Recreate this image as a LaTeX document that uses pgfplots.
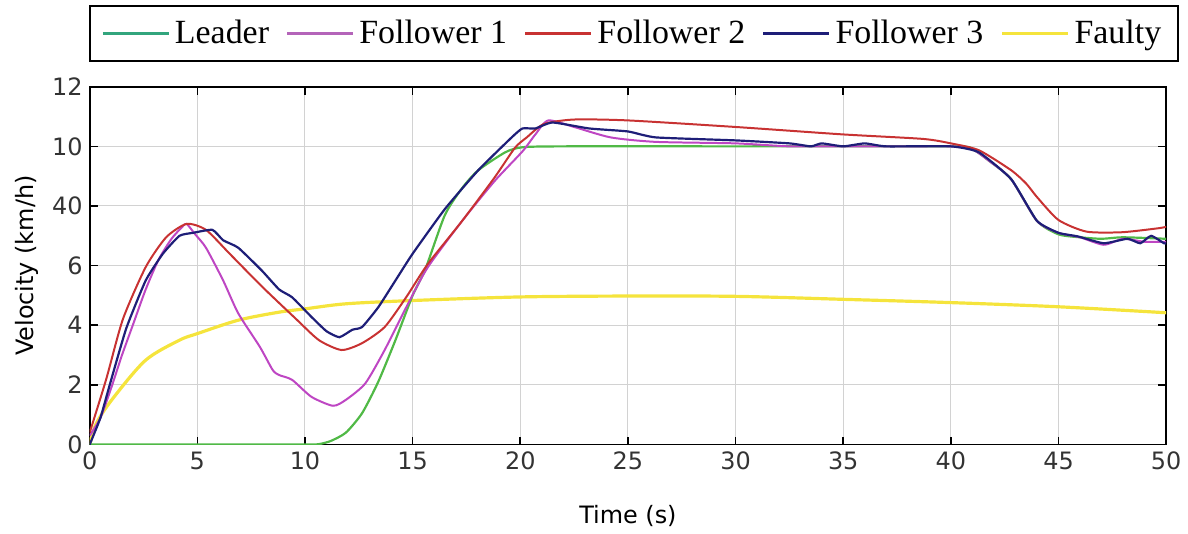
\documentclass[border=0pt]{standalone}
\usepackage{pgfplots}
\pgfplotsset{compat=1.18}
\usepackage{fontspec}
\setmainfont{DejaVu Sans}
\newfontfamily\legfont{Liberation Serif}

\definecolor{cleader}{RGB}{80,185,70}
\definecolor{cleaderleg}{RGB}{50,165,125}
\definecolor{cf1}{RGB}{190,70,195}
\definecolor{cf1leg}{RGB}{180,100,185}
\definecolor{cf2}{RGB}{200,50,50}
\definecolor{cf3}{RGB}{30,30,120}
\definecolor{cfaulty}{RGB}{245,228,60}

\begin{document}
\begin{tikzpicture}
\begin{axis}[
    width=540pt, height=179.5pt,
    scale only axis,
    xmin=0, xmax=50,
    ymin=0, ymax=12,
    xtick={0,5,...,50},
    ytick={0,2,4,6,8,10,12},
    yticklabels={0,2,4,6,40,10,12},
    grid=major,
    grid style={gray!35, line width=0.5pt},
    axis line style={black, line width=0.8pt},
    tick style={black, line width=0.8pt},
    major tick length=4pt,
    tick align=inside,
    ticklabel style={font=\fontsize{12}{14}\selectfont, text=black!80},
    /pgf/number format/assume math mode=true,
    xlabel={Time (s)},
    ylabel={Velocity (km/h)},
    label style={font=\fontsize{12}{14}\selectfont},
    xlabel style={yshift=-11pt},
    legend columns=5,
    legend image code/.code={\draw[#1] (0pt,0pt) -- (33pt,0pt);},
    legend style={
        at={(0.5,1)}, anchor=south, xshift=3pt, yshift=12.5pt,
        draw=black, line width=1pt,
        font=\legfont\fontsize{17}{19}\selectfont,
        inner xsep=6pt, inner ysep=4.5pt,
        nodes={inner sep=2.5pt},
        /tikz/every even column/.append style={column sep=6pt},
    },
]

% legend samples
\addlegendimage{cleaderleg, line width=1.3pt}
\addlegendentry{Leader}
\addlegendimage{cf1leg, line width=1.3pt}
\addlegendentry{Follower 1}
\addlegendimage{cf2, line width=1.3pt}
\addlegendentry{Follower 2}
\addlegendimage{cf3, line width=1.3pt}
\addlegendentry{Follower 3}
\addlegendimage{cfaulty, line width=1.8pt}
\addlegendentry{Faulty}

% Faulty
\addplot[cfaulty, line width=1.6pt, smooth, forget plot] coordinates {
(0,0) (0.3,0.7) (1.08,1.55) (2.6,2.83) (4.17,3.5) (5,3.72) (6.9,4.17)
(8.8,4.44) (10,4.55) (11.9,4.72) (15,4.83) (20,4.95) (25,4.98) (30,4.97)
(35,4.87) (40,4.76) (45,4.62) (50,4.42)
};

% Leader
\addplot[cleader, line width=1.1pt, smooth, tension=0.4, forget plot] coordinates {
(0,0) (5,0) (10,0) (10.4,0) (10.7,0.02) (11.2,0.12) (11.9,0.4) (12.65,1.05)
(13.4,2.1) (14.2,3.5) (15.0,5.0) (15.6,5.9) (16.5,7.7) (17.3,8.6)
(18.05,9.2) (19.3,9.8) (20.1,9.97) (22,10) (30,10) (40,10) (41,9.9)
(41.8,9.5) (42.8,8.9) (44,7.5) (45,7.05) (46,6.95) (47,6.9) (48,6.95) (50,6.9)
};

% Follower 1
\addplot[cf1, line width=1pt, smooth, tension=0.4, forget plot] coordinates {
(0,0.3) (0.5,0.9) (1,1.9) (1.5,3.0) (2,4.0) (2.6,5.2) (3.2,6.2) (3.8,6.9)
(4.3,7.3) (4.5,7.4) (4.9,7.05) (5.4,6.6) (6.2,5.5) (6.9,4.4) (7.9,3.28)
(8.5,2.5) (8.8,2.33) (9.4,2.17) (10.3,1.6) (11.3,1.3) (11.9,1.5)
(12.8,2.05) (13.7,3.17) (14.7,4.6) (15.7,5.94) (17.3,7.5) (18.8,8.83)
(20.1,9.83) (20.7,10.4) (21.3,10.87) (22.5,10.65) (24.2,10.3) (26.3,10.15)
(30,10.1) (32.5,10.0) (35,10.0) (38,10.0) (40,10.0) (41,9.9) (41.8,9.5)
(42.8,8.9) (44,7.5) (45,7.1) (46,6.95) (47.1,6.7) (48,6.9) (49,6.8) (50,6.8)
};

% Follower 2
\addplot[cf2, line width=1pt, smooth, tension=0.4, forget plot] coordinates {
(0,0.4) (0.77,2.2) (1.54,4.2) (2.6,5.95) (3.55,6.95) (4.5,7.4) (5.4,7.2)
(6.5,6.4) (8.0,5.3) (9.6,4.2) (10.65,3.5) (11.7,3.17) (12.65,3.4)
(13.7,3.94) (14.7,4.94) (15.7,6.05) (17.3,7.5) (18.8,8.95) (19.75,9.95)
(20.3,10.3) (21.1,10.75) (22.5,10.9) (25,10.87) (30,10.65) (35,10.4)
(38.7,10.25) (40,10.1) (41.3,9.87) (42.8,9.2) (43.5,8.75) (44,8.3) (45,7.53)
(46.3,7.14) (47.95,7.12) (49.6,7.25) (50,7.3)
};

% Follower 3
\addplot[cf3, line width=1.1pt, smooth, tension=0.3, forget plot] coordinates {
(0,0) (0.5,0.9) (0.93,2.0) (1.7,3.9) (2.6,5.5) (3.4,6.4) (4.17,7.0)
(4.8,7.1) (5.7,7.2) (6.2,6.85) (6.9,6.6) (8.0,5.83) (8.8,5.2) (9.4,4.94)
(10.3,4.28) (11.0,3.8) (11.6,3.6) (12.2,3.85) (12.65,3.94) (13.4,4.6)
(14.2,5.5) (15.0,6.4) (16.5,7.9) (18.05,9.2) (19.6,10.3) (20.1,10.6)
(20.7,10.6) (21.5,10.8) (23.2,10.6) (25,10.5) (26.3,10.3) (30,10.2)
(32.5,10.1) (33.5,10.0) (34,10.1) (35,10.0) (36,10.1) (37,10.0) (40,10.0)
(41.3,9.8) (42.8,8.9) (44,7.5) (45,7.1) (45.9,6.98) (47.1,6.75) (48.2,6.9)
(48.8,6.75) (49.3,7.0) (49.9,6.75) (50,6.75)
};

\end{axis}
\path (-45pt,-42.5pt) rectangle (549pt,223pt);
\end{tikzpicture}
\end{document}
